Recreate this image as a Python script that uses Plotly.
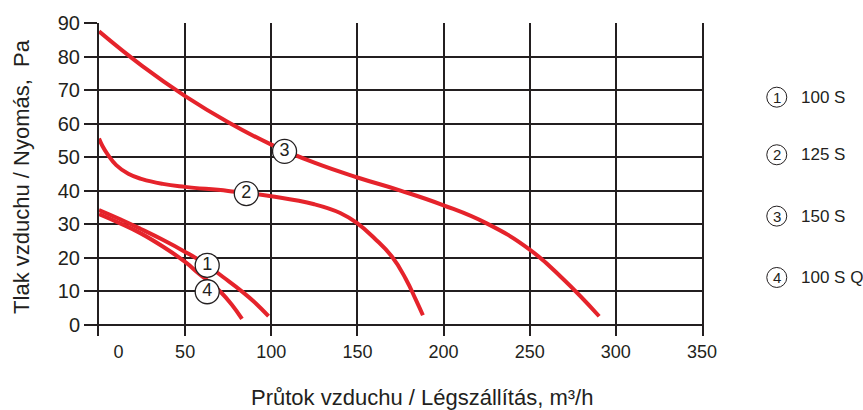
import plotly.graph_objects as go

# ---- data ----
flow_100S = [0, 12, 24, 37, 50, 62, 72, 82.7, 90, 98.4]
pres_100S = [34.2, 31.5, 28.6, 25.3, 21.7, 18.0, 14.2, 10.0, 6.8, 2.5]

flow_125S = [0, 2, 5, 10, 17, 25, 37, 50, 75, 100, 125, 140, 150, 160, 170, 178, 184, 188]
pres_125S = [55.5, 53.3, 50.8, 47.6, 45.0, 43.4, 42.0, 41.1, 39.9, 38.3, 35.9, 33.3, 30.2, 25.7, 20.3, 13.7, 7.3, 2.8]

flow_150S = [0, 25, 50, 75, 100, 125, 150, 175, 200, 225, 250, 270, 290.3]
pres_150S = [87.5, 77.2, 68.2, 60.4, 53.7, 48.3, 43.9, 40.0, 35.6, 30.2, 22.4, 13.3, 2.5]

flow_100SQ = [0, 12, 24, 37, 50, 58, 65, 70.5, 77, 83]
pres_100SQ = [33.0, 30.3, 27.3, 23.3, 18.7, 15.2, 12.3, 9.8, 6.0, 1.7]

curve_ids = ["1", "2", "3", "4"]
curve_names = ["100 S", "125 S", "150 S", "100 S Q"]
label_x = [62.8, 85.5, 107.7, 62.8]
label_y = [17.7, 39.1, 51.7, 9.8]

x_grid = [0, 50, 100, 150, 200, 250, 300, 350]
x_label_pos = [11.3, 50, 100, 150, 200, 250, 300, 350]
x_label_text = ["0", "50", "100", "150", "200", "250", "300", "350"]
y_ticks = [0, 10, 20, 30, 40, 50, 60, 70, 80, 90]

x_title = "Průtok vzduchu / Légszállítás, m³/h"
y_title = "Tlak vzduchu / Nyomás,  Pa"

RED = "#e5232b"
INK = "#231f20"
FONT = "Liberation Sans, Arial, Helvetica, sans-serif"

fig = go.Figure()
for fx, py in [(flow_100S, pres_100S), (flow_125S, pres_125S),
               (flow_150S, pres_150S), (flow_100SQ, pres_100SQ)]:
    fig.add_trace(go.Scatter(x=fx, y=py, mode="lines",
                             line=dict(color=RED, width=4, shape="spline", smoothing=1.3),
                             showlegend=False, hoverinfo="skip"))

fig.add_trace(go.Scatter(x=label_x, y=label_y, mode="markers+text", text=curve_ids,
                         textposition="middle center",
                         textfont=dict(family=FONT, size=18, color=INK),
                         marker=dict(size=24, color="white", line=dict(color=INK, width=1.3)),
                         showlegend=False, hoverinfo="skip", cliponaxis=False))

# dummy trace for the label axis
fig.add_trace(go.Scatter(x=[], y=[], xaxis="x2", showlegend=False, hoverinfo="skip"))

# legend on the right (circled numbers + names)
leg_y = [0.763, 0.579, 0.383, 0.187]
for cid, name, ly in zip(curve_ids, curve_names, leg_y):
    fig.add_shape(type="circle", xref="paper", yref="paper", xsizemode="pixel", ysizemode="pixel",
                  xanchor=1.124, yanchor=ly, x0=-10, x1=10, y0=-10, y1=10,
                  line=dict(color=INK, width=1), fillcolor="white")
    fig.add_annotation(xref="paper", yref="paper", x=1.124, y=ly, text=cid, showarrow=False,
                       font=dict(family=FONT, size=15, color=INK), xanchor="center", yanchor="middle")
    fig.add_annotation(xref="paper", yref="paper", x=1.161, y=ly, text=name, showarrow=False,
                       font=dict(family=FONT, size=17, color=INK), xanchor="left", yanchor="middle")

fig.add_annotation(xref="paper", yref="paper", x=0.535, y=-0.196, text=x_title, showarrow=False,
                   font=dict(family=FONT, size=22, color=INK), xanchor="center", yanchor="middle")
fig.add_annotation(xref="paper", yref="paper", x=-0.1285, y=0.51, text=y_title, showarrow=False,
                   textangle=-90, font=dict(family=FONT, size=22, color=INK),
                   xanchor="center", yanchor="middle")

fig.update_layout(
    width=863, height=410,
    margin=dict(l=99, r=161, t=20, b=74),
    paper_bgcolor="white", plot_bgcolor="white",
    showlegend=False,
    xaxis=dict(range=[0, 350], tickmode="array", tickvals=x_grid, showticklabels=False,
               showgrid=True, gridcolor=INK, gridwidth=2, zeroline=False, ticks="",
               showline=False, fixedrange=True),
    xaxis2=dict(range=[0, 350], overlaying="x", anchor="y", side="bottom",
                tickmode="array", tickvals=x_label_pos, ticktext=x_label_text,
                showgrid=False, zeroline=False, ticks="", showline=False,
                ticklabelstandoff=3,
                tickfont=dict(family=FONT, size=18, color=INK), fixedrange=True),
    yaxis=dict(range=[-3.4, 90], tickmode="array", tickvals=y_ticks,
               showgrid=True, gridcolor=INK, gridwidth=2, zeroline=False,
               ticks="outside", ticklen=13, tickwidth=2, tickcolor=INK,
               showline=True, mirror=True, linecolor=INK, linewidth=2,
               tickfont=dict(family=FONT, size=20, color=INK), fixedrange=True),
)

fig.write_html("out.html", config={"displayModeBar": False},
               post_script="document.body.style.margin='0';")
